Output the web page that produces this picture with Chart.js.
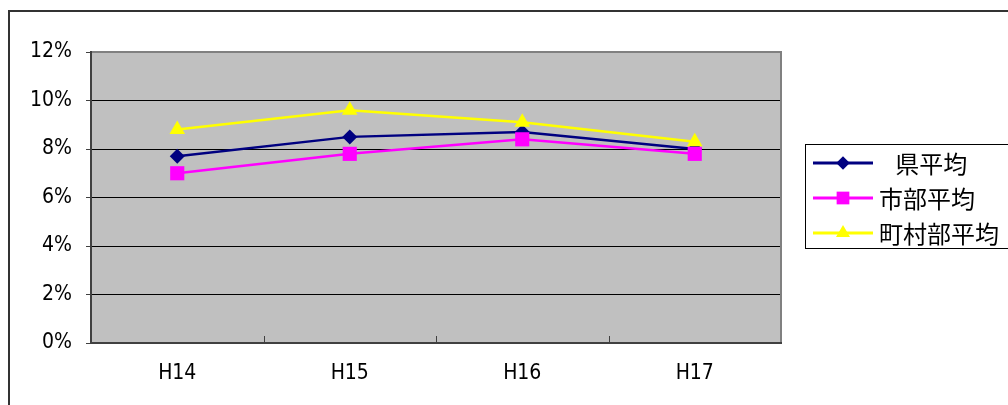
<!DOCTYPE html>
<html>
<head>
<meta charset="utf-8">
<script src="https://cdn.jsdelivr.net/npm/chart.js@4/dist/chart.umd.min.js"></script>
<style>
  html, body { margin: 0; padding: 0; background: #fff; }
  #wrap { width: 1008px; height: 405px; position: relative; }
</style>
</head>
<body>
<div id="wrap"><canvas id="chart"></canvas></div>
<script>
const years      = ['H14', 'H15', 'H16', 'H17'];
const prefAvg    = [7.7, 8.5, 8.7, 8.0];
const cityAvg    = [7.0, 7.8, 8.4, 7.8];
const townAvg    = [8.8, 9.6, 9.1, 8.3];
const seriesNames = ['   県平均', '市部平均', '町村部平均'];
const yTicks     = [0, 2, 4, 6, 8, 10, 12];

const axisFont = { family: '"Liberation Sans Narrow", "DejaVu Sans Condensed", sans-serif', size: 21 };
const jpFont   = '24px "Noto Sans CJK JP", sans-serif';

// plot background, frame, inner x ticks, legend (Excel style)
const excelLook = {
  id: 'excelLook',
  beforeDraw(chart) {
    const { ctx, chartArea: a } = chart;
    ctx.save();
    ctx.fillStyle = '#c0c0c0';
    ctx.fillRect(a.left, a.top, a.right - a.left, a.bottom - a.top);
    // outer chart frame
    ctx.strokeStyle = '#333';
    ctx.lineWidth = 2;
    ctx.beginPath();
    ctx.moveTo(9, chart.height + 2);
    ctx.lineTo(9, 11);
    ctx.lineTo(chart.width + 2, 11);
    ctx.stroke();
    ctx.restore();
  },
  beforeDatasetsDraw(chart) {
    const { ctx, chartArea: a, scales: { x } } = chart;
    ctx.save();
    ctx.lineWidth = 1;
    ctx.strokeStyle = '#404040';
    ctx.beginPath();
    for (let i = 0; i < years.length - 1; i++) {
      const px = Math.round((x.getPixelForValue(i) + x.getPixelForValue(i + 1)) / 2) + 0.5;
      ctx.moveTo(px, a.bottom);
      ctx.lineTo(px, a.bottom - 7);
    }
    ctx.stroke();
    ctx.lineWidth = 2;
    ctx.strokeStyle = '#808080';
    ctx.beginPath();
    ctx.moveTo(a.left, a.top);
    ctx.lineTo(a.right, a.top);
    ctx.lineTo(a.right, a.bottom);
    ctx.stroke();
    ctx.strokeStyle = '#404040';
    ctx.beginPath();
    ctx.moveTo(a.left, a.top - 1);
    ctx.lineTo(a.left, a.bottom);
    ctx.lineTo(a.right + 1, a.bottom);
    ctx.stroke();
    ctx.restore();
  },
  afterDraw(chart) {
    const { ctx } = chart;
    const bx = 805, by = 144, bw = 210, bh = 104;
    ctx.save();
    ctx.fillStyle = '#fff';
    ctx.fillRect(bx, by, bw, bh);
    ctx.strokeStyle = '#000';
    ctx.lineWidth = 1;
    ctx.strokeRect(bx + 0.5, by + 0.5, bw, bh);
    const rows = [163, 198, 233];
    chart.data.datasets.forEach((ds, i) => {
      const y = rows[i];
      ctx.strokeStyle = ds.borderColor;
      ctx.lineWidth = 3;
      ctx.beginPath();
      ctx.moveTo(813, y);
      ctx.lineTo(873, y);
      ctx.stroke();
      ctx.fillStyle = ds.pointBackgroundColor;
      ctx.strokeStyle = ds.pointBackgroundColor;
      Chart.helpers.drawPoint(ctx, {
        pointStyle: ds.pointStyle, radius: ds.pointRadius * 0.9, borderWidth: 0
      }, 843, y);
      ctx.fillStyle = '#000';
      ctx.font = jpFont;
      ctx.textBaseline = 'middle';
      ctx.fillText(ds.label, 879, y + 1);
    });
    ctx.restore();
  }
};

const colors = ['#000080', '#ff00ff', '#ffff00'];
const styles = ['rectRot', 'rect', 'triangle'];
const radii  = [7.5, 10, 9];
const values = [prefAvg, cityAvg, townAvg];

new Chart(document.getElementById('chart'), {
  type: 'line',
  data: {
    labels: years,
    datasets: values.map((v, i) => ({
      label: seriesNames[i],
      data: v,
      borderColor: colors[i],
      backgroundColor: colors[i],
      pointBackgroundColor: colors[i],
      pointBorderColor: colors[i],
      pointBorderWidth: 0,
      pointStyle: styles[i],
      pointRadius: radii[i],
      borderWidth: 2.5,
      tension: 0,
      order: 3 - i,
    })),
  },
  plugins: [excelLook],
  options: {
    responsive: true, maintainAspectRatio: false, animation: false,
    layout: { padding: { left: 0, top: 52, right: 227, bottom: 0 } },
    plugins: { legend: { display: false }, tooltip: { enabled: false } },
    scales: {
      x: {
        offset: true,
        grid: { display: false, drawTicks: false },
        border: { display: false },
        ticks: { color: '#000', font: axisFont, padding: 18 },
        afterFit(s) { s.height = 62; },
      },
      y: {
        min: 0, max: 12,
        afterBuildTicks(s) { s.ticks = yTicks.map(v => ({ value: v })); },
        grid: {
          color: c => (c.tick.value === 0 || c.tick.value === 12) ? 'rgba(0,0,0,0)' : '#000',
          tickColor: '#404040',
          tickLength: 5,
          lineWidth: 1,
        },
        border: { display: false },
        ticks: { color: '#000', font: axisFont, padding: 14, callback: v => v + '%' },
        afterFit(s) { s.width = 91; },
      },
    },
  },
});
</script>
</body>
</html>
